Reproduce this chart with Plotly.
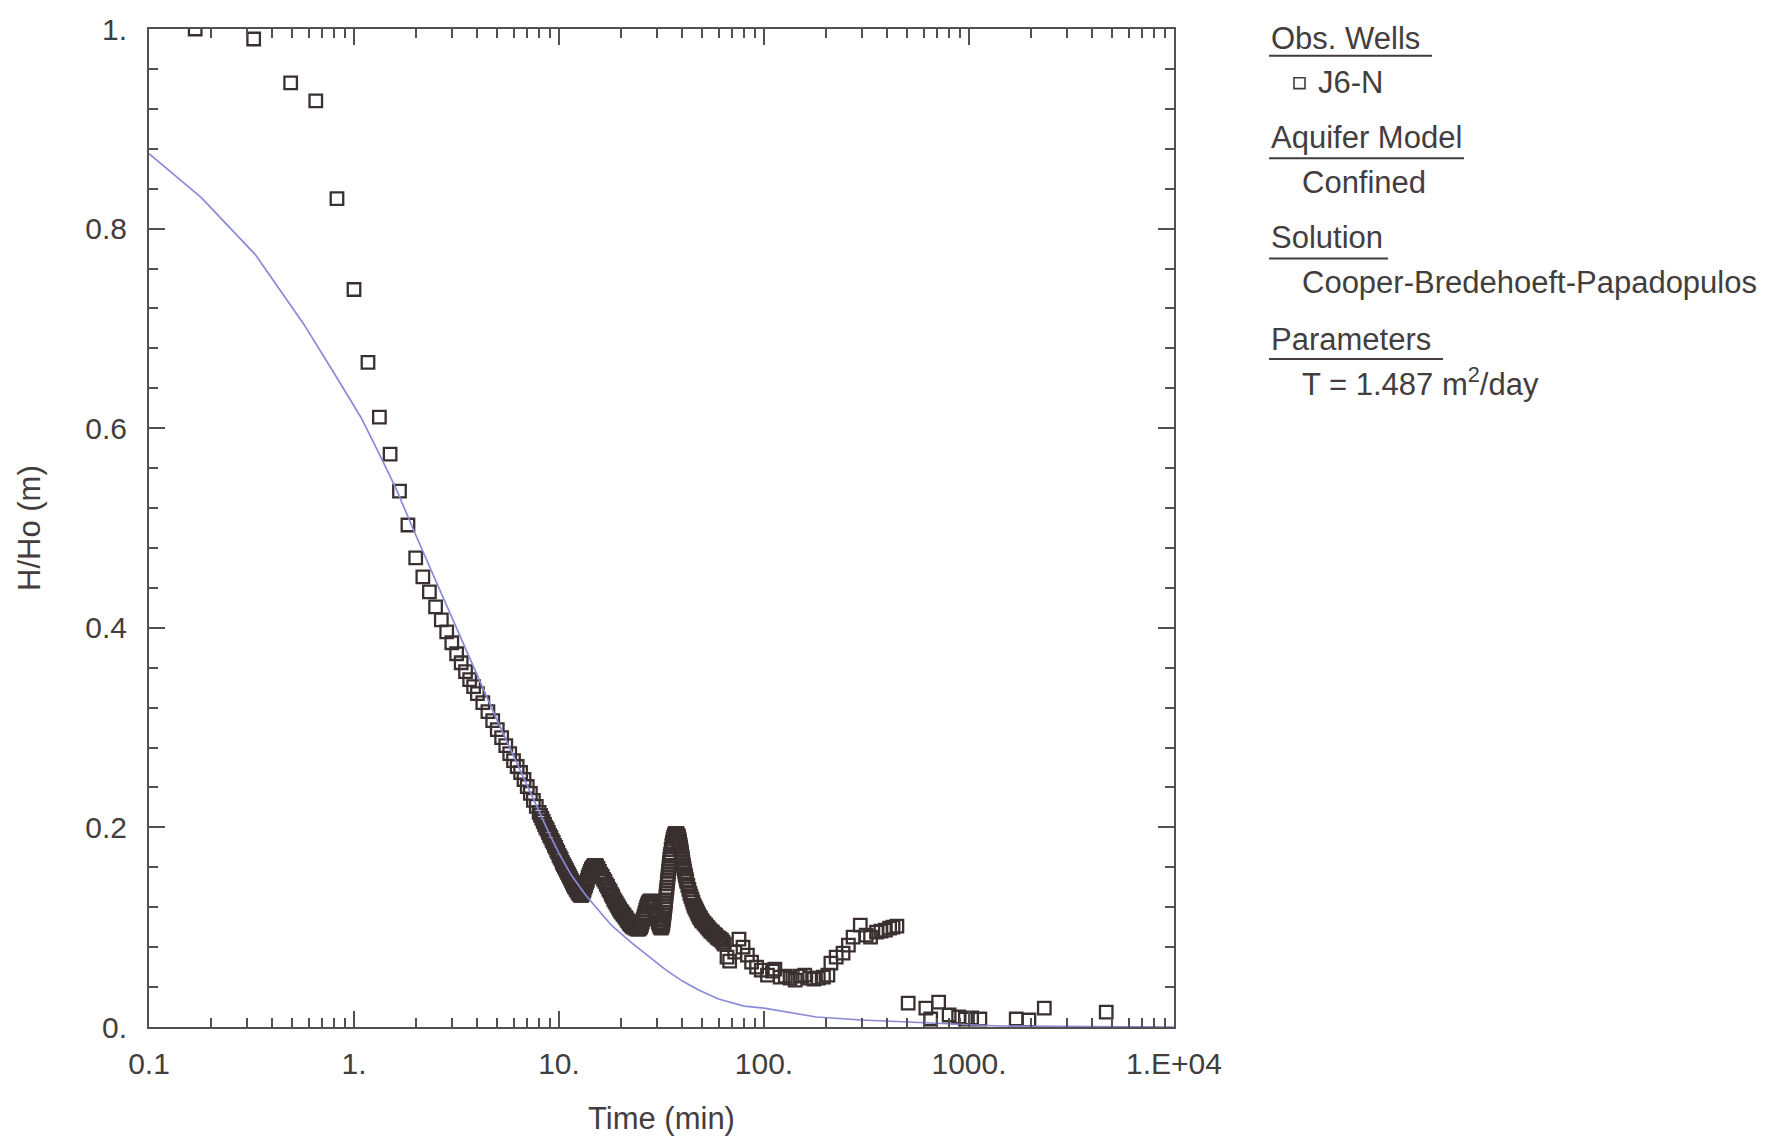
import plotly.graph_objects as go

# ---------------- data ----------------
# early, sparse observations
t_early = [0.168, 0.324, 0.491, 0.651, 0.826, 1.0, 1.17, 1.33]
h_early = [1.0, 0.990, 0.946, 0.928, 0.830, 0.739, 0.666, 0.611]

# dense falling limb
t_fall = [1.5, 1.667, 1.833, 2.0, 2.167, 2.333, 2.5, 2.667, 2.833, 3.0, 3.167, 3.333,
          3.5, 3.667, 3.833, 4.0, 4.25, 4.5, 4.75, 5.0, 5.25, 5.5, 5.75, 6.0, 6.25,
          6.5, 6.75, 7.0, 7.25, 7.5, 7.75, 8.0, 8.125, 8.25, 8.375, 8.5, 8.625, 8.75,
          8.875, 9.0, 9.125, 9.25, 9.375, 9.5, 9.625, 9.75, 9.875, 10.0, 10.125, 10.25,
          10.375, 10.5, 10.625, 10.75, 10.875, 11.0, 11.125, 11.25, 11.375, 11.5,
          11.625, 11.75, 11.875, 12.0, 12.125, 12.25, 12.375, 12.5, 12.625, 12.75]
h_fall = [0.574, 0.537, 0.503, 0.470, 0.451, 0.436, 0.421, 0.408, 0.396, 0.385, 0.374, 0.365,
          0.356, 0.348, 0.341, 0.334, 0.325, 0.316, 0.307, 0.298, 0.290, 0.282, 0.274, 0.267, 0.261,
          0.255, 0.248, 0.241, 0.234, 0.227, 0.221, 0.215, 0.212, 0.209, 0.206, 0.203, 0.200, 0.198,
          0.195, 0.192, 0.190, 0.187, 0.185, 0.182, 0.180, 0.177, 0.175, 0.172, 0.170, 0.168,
          0.165, 0.163, 0.161, 0.159, 0.157, 0.155, 0.153, 0.151, 0.149, 0.147,
          0.145, 0.143, 0.141, 0.140, 0.138, 0.137, 0.135, 0.134, 0.133, 0.132]

# first bump
t_bump1 = [12.875, 13.0, 13.125, 13.25, 13.375, 13.5, 13.625, 13.75, 13.875, 14.0, 14.125,
           14.25, 14.375, 14.5, 14.625, 14.75, 14.875, 15.0, 15.125, 15.25, 15.5, 15.75,
           16.0, 16.25, 16.5, 16.75, 17.0, 17.25, 17.5, 17.75, 18.0, 18.25, 18.5, 18.75,
           19.0, 19.25, 19.5, 19.75, 20.0, 20.25, 20.5, 20.75, 21.0, 21.25, 21.5, 21.75,
           22.0, 22.25, 22.5, 22.75, 23.0, 23.5, 24.0, 24.5]
h_bump1 = [0.132, 0.133, 0.135, 0.137, 0.140, 0.142, 0.145, 0.147, 0.150, 0.152, 0.154,
           0.156, 0.158, 0.159, 0.160, 0.161, 0.162, 0.162, 0.162, 0.161, 0.159, 0.156,
           0.153, 0.151, 0.148, 0.146, 0.143, 0.141, 0.138, 0.136, 0.133, 0.131, 0.128, 0.126,
           0.124, 0.122, 0.120, 0.118, 0.116, 0.115, 0.113, 0.112, 0.110, 0.109, 0.107, 0.106,
           0.104, 0.103, 0.102, 0.101, 0.100, 0.099, 0.098, 0.098]

# small hump
t_hump = [24.75, 25.0, 25.25, 25.5, 25.75, 26.0, 26.25, 26.5, 26.75, 27.0, 27.25, 27.5,
          27.75, 28.0, 28.25, 28.5, 28.75, 29.0, 29.25, 29.5, 29.75, 30.0, 30.25, 30.5,
          30.75, 31.0, 31.25, 31.5, 31.75, 32.0]
h_hump = [0.099, 0.100, 0.102, 0.105, 0.108, 0.111, 0.114, 0.117, 0.120, 0.122, 0.124, 0.125,
          0.126, 0.126, 0.126, 0.125, 0.124, 0.122, 0.120, 0.117, 0.114, 0.111, 0.108, 0.105,
          0.103, 0.101, 0.100, 0.099, 0.100, 0.102]

# main peak
t_peak = [32.125, 32.25, 32.375, 32.5, 32.625, 32.75, 32.875, 33.0, 33.125, 33.25, 33.375,
          33.5, 33.625, 33.75, 33.875, 34.0, 34.125, 34.25, 34.375, 34.5, 34.625, 34.75,
          34.875, 35.0, 35.25, 35.5, 35.75, 36.0, 36.25, 36.5, 36.75, 37.0, 37.25, 37.5,
          37.75, 38.0, 38.125, 38.25, 38.375, 38.5, 38.625, 38.75, 38.875, 39.0, 39.125,
          39.25, 39.375, 39.5, 39.625, 39.75, 39.875, 40.0, 40.25, 40.5, 40.75, 41.0,
          41.25, 41.5, 41.75, 42.0, 42.5, 43.0, 43.5, 44.0, 44.5, 45.0, 45.5, 46.0, 46.5,
          47.0, 47.5, 48.0, 48.5, 49.0, 49.5, 50.0, 51.0, 52.0, 53.0, 54.0, 55.0, 56.0,
          57.0, 58.0, 59.0, 60.0, 61.0, 62.0, 63.0, 64.0]
h_peak = [0.104, 0.107, 0.109, 0.112, 0.115, 0.118, 0.121, 0.124, 0.127, 0.131, 0.134,
          0.137, 0.140, 0.144, 0.147, 0.150, 0.153, 0.156, 0.159, 0.162, 0.165, 0.168,
          0.171, 0.173, 0.178, 0.182, 0.185, 0.188, 0.190, 0.192, 0.193, 0.194, 0.194, 0.194,
          0.193, 0.192, 0.191, 0.190, 0.189, 0.188, 0.186, 0.185, 0.183, 0.182, 0.180,
          0.178, 0.177, 0.175, 0.173, 0.171, 0.170, 0.168, 0.165, 0.162, 0.159, 0.156,
          0.153, 0.151, 0.148, 0.146, 0.142, 0.138, 0.134, 0.131, 0.128, 0.125, 0.122, 0.120, 0.118,
          0.116, 0.114, 0.112, 0.110, 0.109, 0.107, 0.106, 0.104, 0.102, 0.100, 0.098, 0.096, 0.095,
          0.093, 0.092, 0.090, 0.089, 0.088, 0.087, 0.085, 0.083]

# late, sparse observations
t_late = [66.0, 68.0, 72.0, 75.5, 79.0, 83.0, 87.0, 92.0, 97.0, 104.0, 110.0, 113.0,
          120.0, 127.0, 134.0, 142.0, 150.0, 158.0, 167.0, 175.0, 184.0, 195.0,
          205.0, 212.0, 225.0, 243.0, 258.0, 272.0, 295.0, 315.0, 331.0, 354.0,
          372.0, 391.0, 410.0, 426.0, 445.0,
          505.0, 616.0, 650.0, 711.0, 800.0, 890.0, 960.0, 1030.0, 1130.0, 1700.0,
          1960.0, 2330.0, 4670.0]
h_late = [0.070, 0.066, 0.075, 0.088, 0.080, 0.072, 0.065, 0.060, 0.057, 0.052, 0.056, 0.058,
          0.050, 0.051, 0.049, 0.047, 0.051, 0.052, 0.049, 0.048, 0.049, 0.050,
          0.052, 0.064, 0.070, 0.074, 0.082, 0.090, 0.102, 0.092, 0.090, 0.095,
          0.096, 0.097, 0.099, 0.100, 0.101,
          0.024, 0.019, 0.008, 0.025, 0.012, 0.010, 0.008, 0.009, 0.008, 0.008,
          0.007, 0.019, 0.015]

# fitted type curve (Cooper-Bredehoeft-Papadopulos)
time_fit = [0.1, 0.18, 0.33, 0.57, 0.8, 1.08, 1.3, 1.6, 2.0, 2.5, 3.0, 4.0, 5.0,
            6.0, 7.0, 8.0, 9.0, 10.0, 11.5, 13.4, 15.0, 18.0, 22.7, 28.5, 33.3,
            40.0, 48.0, 60.0, 80.0, 100.0, 140.0, 180.0, 300.0, 600.0, 1400.0, 10000.0]
hho_fit = [0.875, 0.831, 0.774, 0.704, 0.655, 0.611, 0.578, 0.540, 0.493, 0.447,
           0.410, 0.352, 0.307, 0.271, 0.241, 0.216, 0.193, 0.174, 0.152, 0.133,
           0.121, 0.102, 0.084, 0.068, 0.057, 0.046, 0.037, 0.028, 0.021, 0.019,
           0.014, 0.010, 0.007, 0.004, 0.001, 0.0]

x_tickvals = [0.1, 1, 10, 100, 1000, 10000]
x_ticktext = ["0.1", "1.", "10.", "100.", "1000.", "1.E+04"]
y_tickvals = [0, 0.2, 0.4, 0.6, 0.8, 1.0]
y_ticktext = ["0.", "0.2", "0.4", "0.6", "0.8", "1."]

time_obs = t_early + t_fall + t_bump1 + t_hump + t_peak + t_late
hho_obs = h_early + h_fall + h_bump1 + h_hump + h_peak + h_late

# ---------------- layout constants ----------------
W, H = 1790, 1144
L, R, T, B = 149, 1174, 23, 1027
FONT = "Liberation Sans, Arial, sans-serif"
TXT = "#433d3d"
AX = "#555050"
MK = "#3a3030"


def px(xp):
    return (xp - L) / (R - L)


def py(yp):
    return (B - yp) / (B - T)


fig = go.Figure()
fig.add_trace(go.Scatter(
    x=time_obs, y=hho_obs, mode="markers",
    marker=dict(symbol="square-open", size=12.5, color=MK,
                line=dict(width=2.3, color=MK)),
    showlegend=False, hoverinfo="skip"))
fig.add_trace(go.Scatter(
    x=time_fit, y=hho_fit, mode="lines",
    line=dict(color="#8a8ad8", width=1.7),
    showlegend=False, hoverinfo="skip"))

minor_x = [m * 10.0 ** e for e in range(-1, 4) for m in range(2, 10)]

fig.update_xaxes(
    type="log", range=[-1, 4],
    tickmode="array", tickvals=x_tickvals, ticktext=x_ticktext,
    ticks="inside", ticklen=16, tickwidth=2, tickcolor=AX,
    minor=dict(tickmode="array", tickvals=minor_x, ticks="inside",
               ticklen=9, tickwidth=1.6, tickcolor=AX),
    showline=True, linecolor=AX, linewidth=2, mirror="allticks",
    showgrid=False, zeroline=False,
    tickfont=dict(family=FONT, size=30, color=TXT),
    ticklabelstandoff=9,
)
fig.update_yaxes(
    range=[0, 1],
    tickmode="array", tickvals=y_tickvals, ticktext=y_ticktext,
    ticks="inside", ticklen=16, tickwidth=2, tickcolor=AX,
    minor=dict(dtick=0.04, tick0=0, ticks="inside",
               ticklen=9, tickwidth=1.6, tickcolor=AX),
    showline=True, linecolor=AX, linewidth=2, mirror="allticks",
    showgrid=False, zeroline=False,
    tickfont=dict(family=FONT, size=30, color=TXT),
    ticklabelstandoff=14,
)

annotations = [
    dict(text="Time (min)", x=px(661), y=py(1119), xanchor="center", yanchor="middle",
         font=dict(family=FONT, size=31, color=TXT)),
    dict(text="H/Ho (m)", x=px(29), y=py(525), xanchor="center", yanchor="middle",
         textangle=-90, font=dict(family=FONT, size=31, color=TXT)),
]

legend_items = [
    ("Obs. Wells", 1269, 33),
    ("J6-N", 1316, 77),
    ("Aquifer Model", 1269, 132),
    ("Confined", 1300, 177),
    ("Solution", 1269, 233),
    ("Cooper-Bredehoeft-Papadopulos", 1300, 278),
    ("Parameters", 1269, 335),
    ("T = 1.487 m<sup>2</sup>/day", 1300, 378),
]
for text, xp, yp in legend_items:
    annotations.append(dict(text=text, x=px(xp), y=py(yp), xanchor="left",
                            yanchor="middle",
                            font=dict(family=FONT, size=31, color=TXT)))
for a in annotations:
    a.update(xref="paper", yref="paper", showarrow=False)

shapes = []
for x0, x1, yp in [(1269, 1432, 50), (1269, 1464, 153), (1269, 1388, 254), (1269, 1443, 355)]:
    shapes.append(dict(type="line", xref="paper", yref="paper",
                       x0=px(x0), x1=px(x1), y0=py(yp), y1=py(yp),
                       line=dict(color=TXT, width=2)))
shapes.append(dict(type="rect", xref="paper", yref="paper",
                   x0=px(1294), x1=px(1305), y0=py(83), y1=py(72),
                   line=dict(color=TXT, width=1.6)))

fig.update_layout(
    width=W, height=H,
    margin=dict(l=L, r=W - R, t=T, b=H - B),
    paper_bgcolor="white", plot_bgcolor="white",
    annotations=annotations, shapes=shapes,
    showlegend=False,
)

fig.write_html("out.html")
